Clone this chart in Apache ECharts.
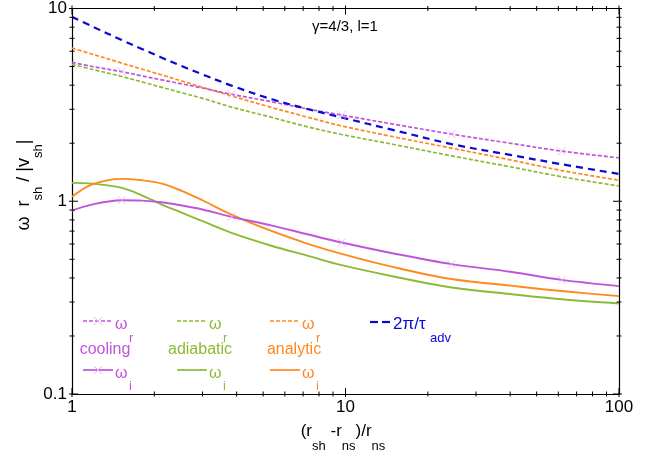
<!DOCTYPE html>
<html>
<head>
<meta charset="utf-8">
<script src="https://cdn.jsdelivr.net/npm/echarts@6/dist/echarts.min.js"></script>
<style>html,body{margin:0;padding:0;background:#fff}#c{width:660px;height:457px}</style>
</head>
<body>
<div id="c"></div>
<script>
// ---- data ----
const xVals  = [1, 1.18, 1.52, 1.8, 2.13, 2.53, 3.0, 3.83, 5.39, 7.2, 9.68, 15, 24.4, 40, 61.7, 100];
const tauAdv = [9.04, 8.10, 6.86, 6.17, 5.56, 5.01, 4.55, 3.98, 3.38, 3.02, 2.72, 2.34, 1.98, 1.74, 1.556, 1.386];
const coolR  = [5.25, 5.01, 4.70, 4.47, 4.26, 4.06, 3.87, 3.59, 3.28, 3.02, 2.80, 2.51, 2.23, 2.00, 1.82, 1.68];
const anaR   = [6.23, 5.81, 5.21, 4.85, 4.52, 4.20, 3.90, 3.52, 3.06, 2.74, 2.46, 2.16, 1.887, 1.64, 1.443, 1.285];
const adiR   = [5.13, 4.84, 4.44, 4.16, 3.90, 3.65, 3.42, 3.08, 2.72, 2.44, 2.22, 1.97, 1.72, 1.51, 1.34, 1.20];
const coolI  = [0.895, 0.961, 1.012, 1.008, 0.988, 0.950, 0.906, 0.830, 0.748, 0.676, 0.611, 0.536, 0.472, 0.431, 0.391, 0.363];
const adiI   = [1.245, 1.235, 1.173, 1.074, 0.961, 0.871, 0.788, 0.685, 0.586, 0.524, 0.466, 0.407, 0.357, 0.330, 0.310, 0.295];
const anaI   = [1.054, 1.220, 1.306, 1.285, 1.235, 1.130, 1.012, 0.853, 0.699, 0.605, 0.533, 0.455, 0.395, 0.365, 0.342, 0.322];
const markerIdx = [2, 7, 10, 12, 14];   // x positions where the cooling curves carry × marks
const xTickVals = [1, 2, 3, 4, 5, 6, 7, 8, 9, 10, 20, 30, 40, 50, 60, 70, 80, 90, 100];
const yTickVals = [0.1, 0.2, 0.3, 0.4, 0.5, 0.6, 0.7, 0.8, 0.9, 1, 2, 3, 4, 5, 6, 7, 8, 9, 10];
const majorTicks = [0.1, 1, 10, 100];

// ---- styles ----
const PURPLE = '#c153dd', GREEN = '#8dba34', ORANGE = '#ff8a1c', BLUE = '#0a0ad0', MARK = '#e2b0f0';
const FONT = 'Liberation Sans, Arial, Helvetica, sans-serif';
const XMIN = 1, XMAX = 100, YMIN = 0.1, YMAX = 10;
const pairs = ys => xVals.map((x, i) => [x, ys[i]]);
const marks = ys => markerIdx.map(i => [xVals[i], ys[i]]);
const isMajor = v => majorTicks.some(m => Math.abs(m - v) < 1e-9) ? 1 : 0;

function axis(kind, pos, labels) {
  return {
    type: 'log', logBase: 10, position: pos,
    min: kind === 'x' ? XMIN : YMIN, max: kind === 'x' ? XMAX : YMAX,
    axisLine: { show: true, lineStyle: { color: '#000', width: 1.2 } },
    axisTick: { show: false },
    axisLabel: labels ? { show: true, fontFamily: FONT, fontSize: 17, color: '#000', margin: 5,
                          showMinLabel: true, showMaxLabel: true, hideOverlap: false } : { show: false },
    splitLine: { show: false }, minorTick: { show: false }, minorSplitLine: { show: false }
  };
}

const lineSeries = (name, ys, color, dashed, width) => ({
  name, type: 'line', data: pairs(ys), smooth: 0.35, symbol: 'none', showSymbol: false,
  silent: true, lineStyle: { color, width, type: dashed || 'solid' }, z: 3
});
const markSeries = ys => ({
  type: 'scatter', data: marks(ys), silent: true, z: 4,
  symbol: 'path://M0,0L10,10M10,0L0,10', symbolSize: 8,
  itemStyle: { color: 'none', borderColor: MARK, borderWidth: 1 }
});

// tick marks on all four sides, placed through the axes' own scales
const tickData = [].concat(
  xTickVals.map(v => [v, YMIN, 0, isMajor(v)]),
  yTickVals.map(v => [XMIN, v, 1, isMajor(v)])
);
const tickSeries = {
  type: 'custom', data: tickData, silent: true, clip: false, z: 6,
  encode: { x: 0, y: 1 },
  renderItem(params, api) {
    const kind = api.value(2), major = api.value(3);
    const out = major ? 3 : 2.5, inn = major ? 6 : 2.5;
    const st = { stroke: '#000', lineWidth: 1 };
    if (kind === 0) {
      const v = api.value(0);
      const b = api.coord([v, YMIN]), t = api.coord([v, YMAX]);
      return { type: 'group', children: [
        { type: 'line', shape: { x1: b[0], y1: b[1] + out, x2: b[0], y2: b[1] - inn }, style: st },
        { type: 'line', shape: { x1: t[0], y1: t[1] - out, x2: t[0], y2: t[1] + inn }, style: st }
      ] };
    } else {
      const v = api.value(1);
      const l = api.coord([XMIN, v]), r = api.coord([XMAX, v]);
      return { type: 'group', children: [
        { type: 'line', shape: { x1: l[0] - out, y1: l[1], x2: l[0] + inn, y2: l[1] }, style: st },
        { type: 'line', shape: { x1: r[0] + out, y1: r[1], x2: r[0] - inn, y2: r[1] }, style: st }
      ] };
    }
  }
};

const sub = { fontFamily: FONT, fontSize: 13, lineHeight: 46, verticalAlign: 'middle' };
const mainT = (size) => ({ fontFamily: FONT, fontSize: size, lineHeight: 20, verticalAlign: 'top' });

function txt(x, y, text, color, size, align) {
  return { type: 'text', x, y, silent: true, z: 10,
    style: { text, fill: color, fontFamily: FONT, fontSize: size, align: align || 'left', verticalAlign: 'middle' } };
}
function seg(x1, x2, y, color, dash, width) {
  return { type: 'line', silent: true, z: 10, shape: { x1, y1: y, x2, y2: y },
    style: { stroke: color, lineWidth: width || 1.7, lineDash: dash || null } };
}
function cross(x, y) {
  return [
    { type: 'line', silent: true, z: 11, shape: { x1: x - 4, y1: y - 4, x2: x + 4, y2: y + 4 }, style: { stroke: MARK, lineWidth: 1 } },
    { type: 'line', silent: true, z: 11, shape: { x1: x + 4, y1: y - 4, x2: x - 4, y2: y + 4 }, style: { stroke: MARK, lineWidth: 1 } }
  ];
}
function legendCol(x0, color, label, labelCx, withMark) {
  let els = [
    seg(x0, x0 + 30, 321, color, [4, 2]),
    txt(x0 + 32, 325, 'ω', color, 16), txt(x0 + 46, 338, 'r', color, 13),
    txt(labelCx, 350, label, color, 16, 'center'),
    seg(x0, x0 + 30, 370, color),
    txt(x0 + 32, 374, 'ω', color, 16), txt(x0 + 46, 386, 'i', color, 13)
  ];
  if (withMark) els = els.concat(cross(x0 + 15, 321), cross(x0 + 15, 370));
  return els;
}

const option = {
  animation: false,
  backgroundColor: '#fff',
  grid: { left: 72, right: 41, top: 8, bottom: 63, containLabel: false },
  xAxis: [axis('x', 'bottom', true), axis('x', 'top', false)],
  yAxis: [axis('y', 'left', true), axis('y', 'right', false)],
  series: [
    lineSeries('adiR', adiR, GREEN, [4, 2], 1.7),
    lineSeries('anaR', anaR, ORANGE, [4, 2], 1.7),
    lineSeries('coolR', coolR, PURPLE, [4, 2], 1.7),
    lineSeries('tauAdv', tauAdv, BLUE, [7, 5], 2.2),
    lineSeries('adiI', adiI, GREEN, null, 1.9),
    lineSeries('anaI', anaI, ORANGE, null, 1.9),
    lineSeries('coolI', coolI, PURPLE, null, 1.9),
    markSeries(coolR),
    markSeries(coolI),
    tickSeries
  ],
  graphic: [].concat(
    [txt(345, 27, 'γ=4/3, l=1', '#000', 15, 'center')],
    legendCol(83, PURPLE, 'cooling', 105, true),
    legendCol(177, GREEN, 'adiabatic', 200, false),
    legendCol(270, ORANGE, 'analytic', 294, false),
    [seg(370, 378, 322, BLUE, null, 2.2), seg(382, 390, 322, BLUE, null, 2.2),
     txt(393, 324, '2π/τ', BLUE, 17), txt(430, 338, 'adv', BLUE, 13)],
    [{
      type: 'text', x: 343, y: 446, silent: true, z: 10,
      style: {
        text: '{m|(r}{s|sh}{m| -r}{s|ns}{m|)/r}{s|ns}', align: 'center', verticalAlign: 'middle', fill: '#000',
        rich: { m: mainT(17), s: sub }
      }
    }, {
      type: 'text', x: 38, y: 185, rotation: Math.PI / 2, silent: true, z: 10,
      style: {
        text: '{m|ω  r}{s|sh}{m| / |v}{s|sh}{m||}', align: 'center', verticalAlign: 'middle', fill: '#000',
        rich: { m: mainT(18), s: sub }
      }
    }]
  )
};

const chart = echarts.init(document.getElementById('c'), null, { renderer: 'canvas' });
chart.setOption(option);
</script>
</body>
</html>
